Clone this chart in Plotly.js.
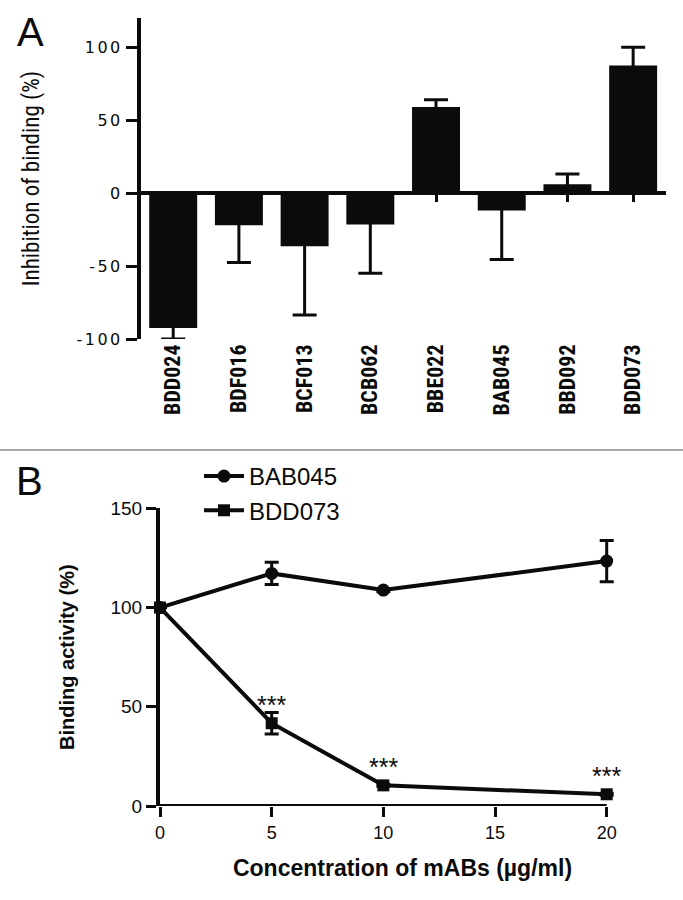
<!DOCTYPE html>
<html>
<head>
<meta charset="utf-8">
<script src="https://cdn.plot.ly/plotly-3.0.1.min.js"></script>
<style>
html,body{margin:0;padding:0;background:#fff;}
#chart{width:683px;height:900px;}
#chart .ytick text{letter-spacing:2.5px;}
</style>
</head>
<body>
<div id="chart"></div>
<script>
// ---------- Panel A data ----------
const mAbs = ['BDD024','BDF016','BCF013','BCB062','BBE022','BAB045','BBD092','BDD073'];
const inhibition = [-92.5, -22, -36.5, -21.5, 59, -12, 6, 87.5];
const inhibitionErr = [7.5, 25.5, 47, 33.5, 5, 33.5, 7, 12.5];
const yTicksA = [-100, -50, 0, 50, 100];
const yTickTextA = ['-100', '-50', '0', '50', '100'];

// ---------- Panel B data ----------
const concentration = [0, 5, 10, 20];
const bab045 = [100, 117.2, 108.8, 123.4];
const bab045Err = [0, 5.6, 0.8, 10.4];
const bdd073 = [100, 41.7, 10.4, 5.9];
const bdd073Err = [0, 5.4, 0.5, 0.5];
const sigX = [5, 10, 20];
const sigLabel = ['***', '***', '***'];
const xTicksB = [0, 5, 10, 15, 20];
const yTicksB = [0, 50, 100, 150];

// ---------- layout geometry ----------
const W = 683, H = 900;
const xDomA = [141 / W, 666 / W];
const yDomA = [1 - 339 / H, 1 - 18 / H];
const yRangeA = [-100, 120];
const xRangeA = [-0.49, 7.5];
const zeroPos = yDomA[0] + (0 - yRangeA[0]) / (yRangeA[1] - yRangeA[0]) * (yDomA[1] - yDomA[0]);

// panel B: visible axis spans 0..20 (160px..606.7px); data area extended to the right
// so that markers / error bars at x=20 are not clipped
const bLeft = 160, bRight20 = 606.7, bExt = 645;
const xMaxB = xTicksB[xTicksB.length - 1];
const xDomB = [bLeft / W, bExt / W];
const xRangeB = [0, xMaxB * (bExt - bLeft) / (bRight20 - bLeft)];
const yDomB = [1 - 806 / H, 1 - 508.3 / H];

const black = '#0b0b0b';
const sans = 'Liberation Sans, Arial, Helvetica, sans-serif';
const condensed = 'Roboto Condensed, Liberation Sans, Arial, sans-serif';

// one-sided error bars (away from zero); inner side kept hidden inside the bar
const errUp = inhibition.map((v, i) => v >= 0 ? inhibitionErr[i] : Math.min(3, -v / 2));
const errDown = inhibition.map((v, i) => v < 0 ? inhibitionErr[i] : Math.min(3, v / 2));

const traces = [
  {
    type: 'bar', x: mAbs, y: inhibition, xaxis: 'x', yaxis: 'y',
    width: 0.73,
    marker: {color: black, line: {width: 0}},
    error_y: {type: 'data', symmetric: false, array: errUp, arrayminus: errDown,
              color: black, thickness: 3, width: 12},
    showlegend: false, hoverinfo: 'skip'
  },
  {
    // invisible trace to carry the zero-line category axis
    type: 'scatter', mode: 'lines', x: mAbs, y: mAbs.map(() => 0),
    xaxis: 'x2', yaxis: 'y', opacity: 0, showlegend: false, hoverinfo: 'skip'
  },
  {
    type: 'scatter', mode: 'lines+markers', name: 'BAB045',
    x: concentration, y: bab045, xaxis: 'x3', yaxis: 'y3',
    line: {color: black, width: 4},
    marker: {symbol: 'circle', size: 13, color: black},
    error_y: {type: 'data', array: bab045Err, color: black, thickness: 3, width: 7},
    cliponaxis: false
  },
  {
    type: 'scatter', mode: 'lines+markers', name: 'BDD073',
    x: concentration, y: bdd073, xaxis: 'x3', yaxis: 'y3',
    line: {color: black, width: 4},
    marker: {symbol: 'square', size: 12, color: black},
    error_y: {type: 'data', array: bdd073Err, color: black, thickness: 3, width: 7},
    cliponaxis: false
  }
];

const annotations = [
  {text: 'A', xref: 'paper', yref: 'paper', x: 30 / W, y: 1 - 32 / H,
   xanchor: 'center', yanchor: 'middle', showarrow: false,
   font: {family: sans, size: 40, color: black}},
  {text: 'B', xref: 'paper', yref: 'paper', x: 29 / W, y: 1 - 481 / H,
   xanchor: 'center', yanchor: 'middle', showarrow: false,
   font: {family: sans, size: 40, color: black}}
];
sigX.forEach((xv, i) => {
  const idx = concentration.indexOf(xv);
  annotations.push({
    text: sigLabel[i], xref: 'x3', yref: 'y3', x: xv, y: bdd073[idx],
    xanchor: 'center', yanchor: 'middle', yshift: 18, showarrow: false,
    font: {family: sans, size: 25, color: black}
  });
});

const layout = {
  width: W, height: H,
  margin: {l: 0, r: 0, t: 0, b: 0},
  paper_bgcolor: '#fff', plot_bgcolor: 'rgba(0,0,0,0)',
  showlegend: true,
  legend: {x: 199 / W, y: 1 - 454 / H, xanchor: 'left', yanchor: 'top',
           font: {family: sans, size: 24, color: black},
           bgcolor: 'rgba(0,0,0,0)', itemwidth: 40, tracegroupgap: 0},
  xaxis: {
    domain: xDomA, anchor: 'y', type: 'category', range: xRangeA,
    showline: false, ticks: '', showgrid: false, zeroline: false,
    tickangle: -90, tickfont: {family: condensed, size: 22, color: black, weight: 'bold'},
    fixedrange: true
  },
  xaxis2: {
    overlaying: 'x', anchor: 'free', position: zeroPos, type: 'category',
    range: xRangeA, showline: true, linewidth: 4, linecolor: black,
    ticks: 'outside', ticklen: 7, tickwidth: 3, tickcolor: black,
    showticklabels: false, showgrid: false, zeroline: false, fixedrange: true
  },
  yaxis: {
    domain: yDomA, anchor: 'x', range: yRangeA,
    showline: true, linewidth: 4, linecolor: black,
    ticks: 'outside', ticklen: 11, tickwidth: 3, tickcolor: black,
    tickvals: yTicksA, ticktext: yTickTextA, showgrid: false, zeroline: false,
    tickfont: {family: 'DejaVu Sans, sans-serif', size: 16, color: black},
    title: {text: 'Inhibition of binding (%)', standoff: 41,
            font: {family: condensed, size: 23, color: black}},
    fixedrange: true
  },
  xaxis3: {
    domain: xDomB, anchor: 'y3', range: xRangeB,
    showline: false,
    ticks: 'outside', ticklen: 10, tickwidth: 3, tickcolor: black,
    tickvals: xTicksB, showgrid: false, zeroline: false,
    tickfont: {family: sans, size: 18, color: black},
    title: {text: 'Concentration of mABs (µg/ml)', standoff: 18,
            font: {family: sans, size: 23, color: black, weight: 'bold'}},
    fixedrange: true
  },
  yaxis3: {
    domain: yDomB, anchor: 'x3', range: [0, 150],
    showline: true, linewidth: 4, linecolor: black,
    ticks: 'outside', ticklen: 10, tickwidth: 3, tickcolor: black,
    tickvals: yTicksB, showgrid: false, zeroline: false,
    tickfont: {family: sans, size: 19, color: black},
    title: {text: 'Binding activity (%)', standoff: 31,
            font: {family: sans, size: 20, color: black, weight: 'bold'}},
    fixedrange: true
  },
  shapes: [
    {type: 'line', xref: 'paper', yref: 'paper', x0: 0, x1: 1, y0: 0.5, y1: 0.5,
     line: {color: '#a6a6a6', width: 2}},
    // panel B x-axis line from first to last tick
    {type: 'line', xref: 'x3', yref: 'y3', x0: xTicksB[0], x1: xMaxB, y0: 0, y1: 0,
     line: {color: black, width: 4}}
  ],
  annotations: annotations
};

Plotly.newPlot('chart', traces, layout, {displayModeBar: false, staticPlot: true});
</script>
</body>
</html>
